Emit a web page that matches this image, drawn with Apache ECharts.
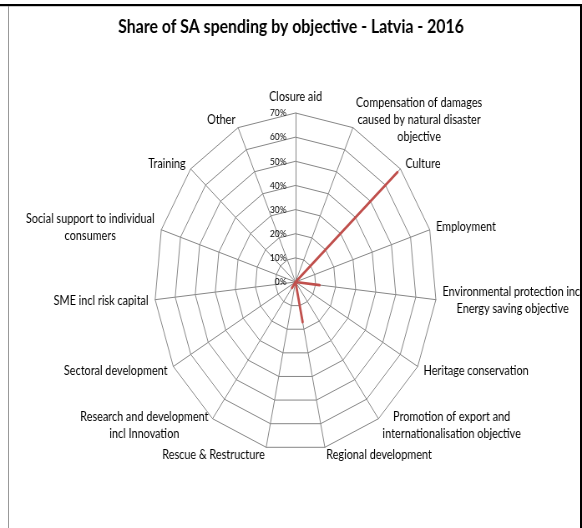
<!DOCTYPE html>
<html><head><meta charset="utf-8">
<script src="https://cdn.jsdelivr.net/npm/echarts@6/dist/echarts.min.js"></script>
<style>
html,body{margin:0;padding:0;width:582px;height:528px;overflow:hidden;background:#fff;}
#wrap{position:absolute;left:0;top:0;width:582px;height:528px;overflow:hidden;}
#chart{position:absolute;left:0;top:0;width:697px;height:528px;transform:scaleX(0.835);transform-origin:0 0;}
.b{position:absolute;}
</style></head><body>
<div id="wrap"><div id="chart"></div>
<div class="b" style="left:0;top:4px;width:582px;height:2px;background:#000"></div>
<div class="b" style="left:0;top:6px;width:582px;height:1px;background:#ccc"></div>
<div class="b" style="left:580px;top:4px;width:2px;height:524px;background:#000"></div>
<div class="b" style="left:8px;top:6px;width:1px;height:522px;background:#999"></div>
</div>
<script>
// ---- data ----
const titleText = "Share of SA spending by objective - Latvia - 2016";
const categories = [
  "Closure aid",
  "Compensation of damages\ncaused by natural disaster\nobjective",
  "Culture",
  "Employment",
  "Environmental protection incl\nEnergy saving objective",
  "Heritage conservation",
  "Promotion of export and\ninternationalisation objective",
  "Regional development",
  "Rescue & Restructure",
  "Research and development\nincl Innovation",
  "Sectoral development",
  "SME incl risk capital",
  "Social support to individual\nconsumers",
  "Training",
  "Other"
];
const shares = [0, 0, 68, 0, 12, 0, 0, 17, 0, 3, 0, 0, 0, 0, 0];
const axisMax = 70;
const axisSteps = 7;
const tickSuffix = "%";

// ---- build ----
const FONT = "Lato";
const NAME_SIZE = 13;
const cv = document.createElement('canvas').getContext('2d');
cv.font = NAME_SIZE + 'px ' + FONT;
const rich = {};
const nameMap = {};
categories.forEach((c, i) => {
  const lines = c.split('\n');
  if (lines.length > 1) {
    const w = Math.ceil(Math.max(...lines.map(l => cv.measureText(l).width)));
    const key = 'm' + i;
    rich[key] = { width: w, align: 'center', fontFamily: FONT, fontSize: NAME_SIZE, lineHeight: 17, color: '#000' };
    nameMap[c] = lines.map(l => '{' + key + '|' + l + '}').join('\n');
  } else {
    nameMap[c] = c;
  }
});

// ECharts places indicators counter-clockwise; reverse to get clockwise order
const order = [0].concat(categories.map((_, i) => i).slice(1).reverse());
const indicators = order.map((idx, k) => {
  const ind = { name: categories[idx], max: axisMax, min: 0 };
  if (k === 0) ind.axisLabel = { show: true };
  return ind;
});
const values = order.map(idx => shares[idx]);

const chart = echarts.init(document.getElementById('chart'), null, { renderer: 'canvas' });
chart.setOption({
  animation: false,
  backgroundColor: 'transparent',
  title: {
    text: titleText, left: 'center', top: 17, padding: 0,
    textStyle: { fontFamily: FONT, fontWeight: 'bold', fontSize: 19, color: '#000' }
  },
  radar: {
    center: [353.9, 282],
    radius: 169,
    startAngle: 90,
    splitNumber: axisSteps,
    shape: 'polygon',
    nameGap: 8,
    axisName: {
      color: '#000', fontFamily: FONT, fontSize: NAME_SIZE, lineHeight: 17,
      formatter: (n) => nameMap[n], rich: rich
    },
    axisLine: { show: true, lineStyle: { color: '#868686', width: 1 } },
    splitLine: { show: true, lineStyle: { color: '#868686', width: 1 } },
    splitArea: { show: false },
    axisTick: { show: false },
    axisLabel: {
      show: false, color: '#000', fontFamily: FONT, fontSize: 10, margin: 11,
      formatter: v => v + tickSuffix
    },
    indicator: indicators
  },
  series: [{
    type: 'radar',
    symbol: 'none',
    lineStyle: { color: '#C0504D', width: 2.75 },
    itemStyle: { color: '#C0504D' },
    data: [{ value: values, name: 'Latvia 2016' }]
  }]
});
</script>
</body></html>
